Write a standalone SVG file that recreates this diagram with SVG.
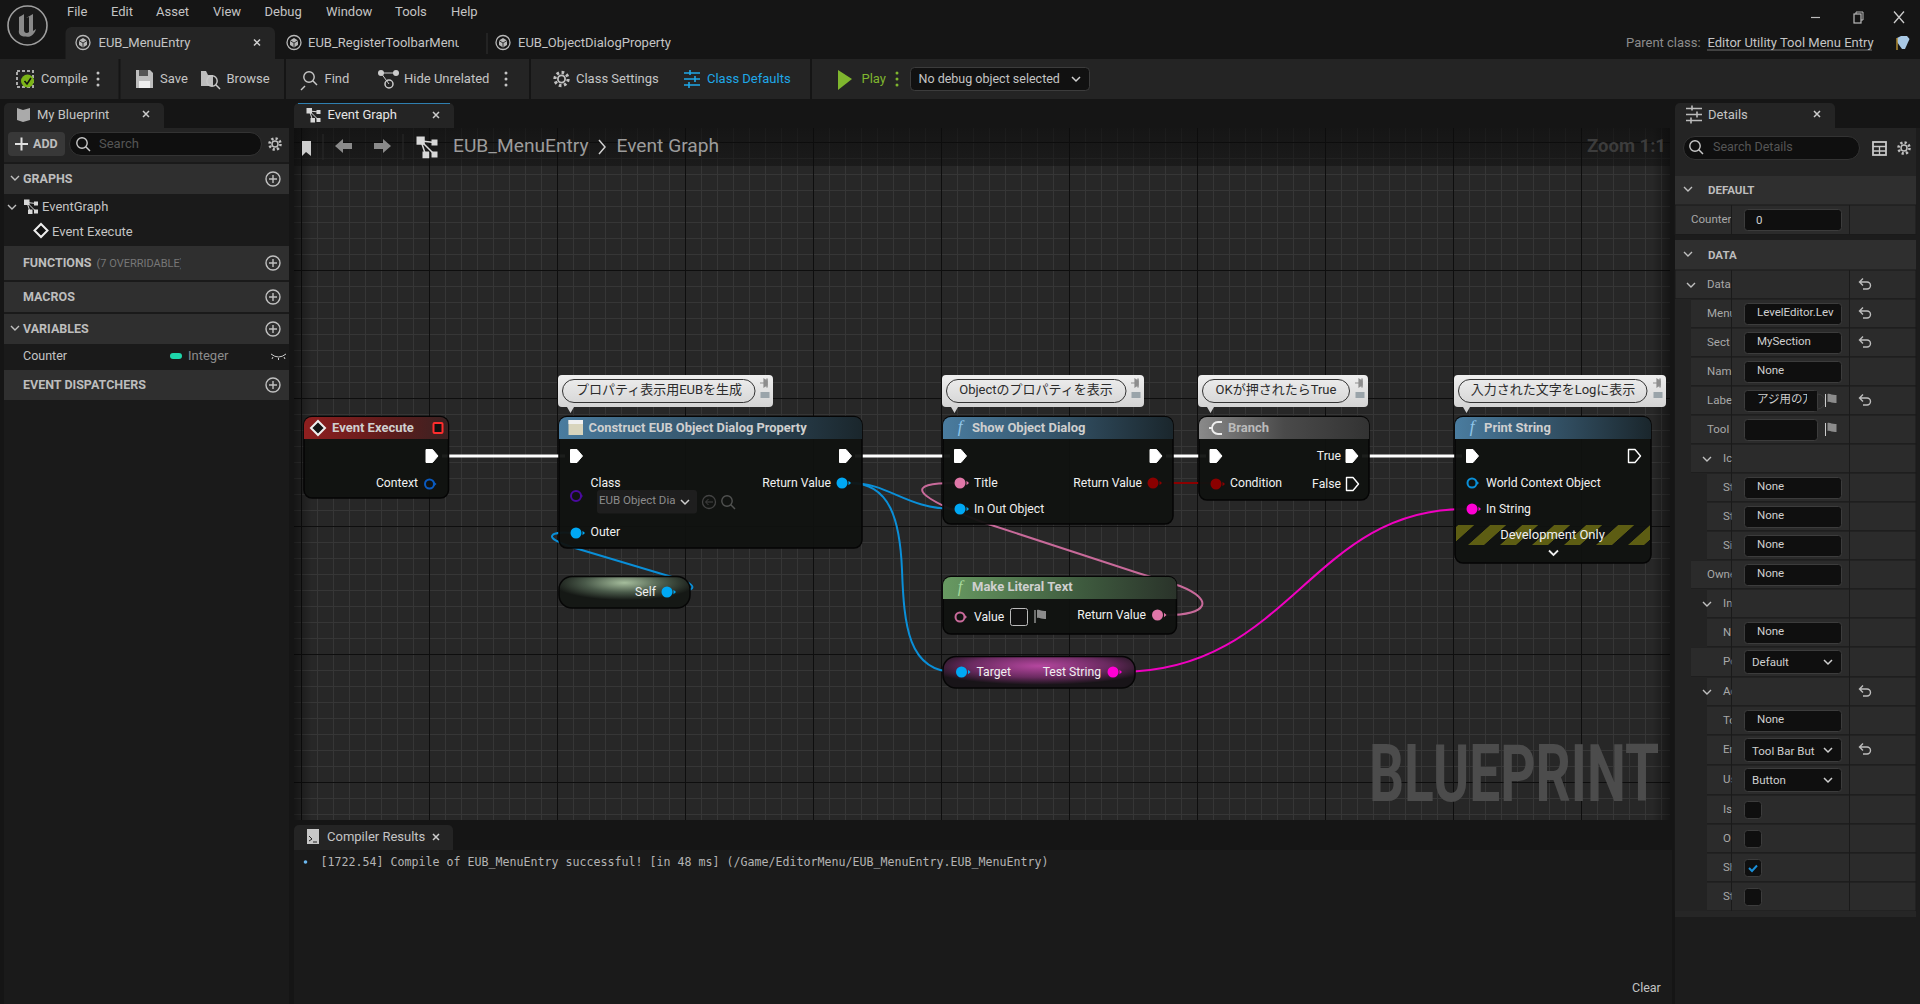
<svg xmlns="http://www.w3.org/2000/svg" width="1920" height="1004" viewBox="0 0 1920 1004">
<style>
text{font-family:Roboto,"Noto Sans CJK JP",sans-serif;font-size:13px;fill:#e8e8e8;white-space:pre;transform:translateY(-1px)}
.n{transform:none}
.ui{fill:#c4c4c4}
.dim{fill:#8c8c8c}
.hdr{font-weight:700;font-size:12.5px;fill:#bdbdbd}
.ttl{font-weight:700;fill:#cfcfcf}
.pin{fill:#f0f0f0;font-size:12.2px}
.end{text-anchor:end}
.mid{text-anchor:middle}
.cm{fill:#2c2c2c;text-anchor:middle;transform:translateY(-2px)}
.lbl{font-size:11.5px;fill:#a8a8a8}
.val{font-size:11.5px;fill:#d0d0d0;transform:none}
.body{fill:#101210;fill-opacity:.95;stroke:#050505;stroke-width:1.5}
.wire{fill:none;stroke-width:2;stroke-linecap:round}
.ico{fill:none;stroke:#c0c0c0;stroke-width:1.4}
.row{fill:#2b2b2b;stroke:#1a1a1a;stroke-width:1}
.sec{fill:#2f2f2f}
.inp{fill:#0f0f0f;stroke:#3c3c3c;stroke-width:1}
.sep{stroke:#151515;stroke-width:2}
.col{stroke:#1a1a1a;stroke-width:1}
.dots{fill:#c4c4c4}
</style>
<defs>
<pattern id="grid" width="128" height="128" patternUnits="userSpaceOnUse" patternTransform="translate(301 142)">
<rect width="128" height="128" fill="#272727"/>
<path d="M16.5 0V128M32.5 0V128M48.5 0V128M64.5 0V128M80.5 0V128M96.5 0V128M112.5 0V128M0 16.5H128M0 32.5H128M0 48.5H128M0 64.5H128M0 80.5H128M0 96.5H128M0 112.5H128" stroke="#363636" stroke-width="1"/>
<path d="M.5 0V128M0 .5H128" stroke="#0e0e0e" stroke-width="1"/>
</pattern>
<linearGradient id="hBlue"><stop offset="0" stop-color="#4a7c9f"/><stop offset=".6" stop-color="#2f4a5c"/><stop offset="1" stop-color="#1a262c"/></linearGradient>
<linearGradient id="hRed"><stop offset="0" stop-color="#8f1f1f"/><stop offset=".6" stop-color="#5e1c1c"/><stop offset="1" stop-color="#3a2222"/></linearGradient>
<linearGradient id="hGrey"><stop offset="0" stop-color="#8a8a8a"/><stop offset=".5" stop-color="#4a4a4a"/><stop offset="1" stop-color="#333"/></linearGradient>
<linearGradient id="hGreen"><stop offset="0" stop-color="#689a62"/><stop offset=".6" stop-color="#3e5a3e"/><stop offset="1" stop-color="#2a332a"/></linearGradient>
<radialGradient id="vSelf" cx=".5" cy=".2" r=".55"><stop offset="0" stop-color="#a5bd9c"/><stop offset=".55" stop-color="#4a5a4a"/><stop offset="1" stop-color="#151815"/></radialGradient>
<radialGradient id="vStr" cx=".5" cy=".3" r=".6"><stop offset="0" stop-color="#b5479f"/><stop offset=".6" stop-color="#6a2a60"/><stop offset="1" stop-color="#181418"/></radialGradient>
<linearGradient id="bub" x1="0" y1="0" x2="0" y2="1"><stop offset="0" stop-color="#efefef"/><stop offset="1" stop-color="#cfcfcf"/></linearGradient>
<linearGradient id="bar" x1="0" y1="0" x2="0" y2="1"><stop offset="0" stop-color="#0c0c0c" stop-opacity=".65"/><stop offset="1" stop-color="#0c0c0c" stop-opacity=".45"/></linearGradient>
<linearGradient id="shL"><stop offset="0" stop-color="#000" stop-opacity=".45"/><stop offset="1" stop-color="#000" stop-opacity="0"/></linearGradient>
<pattern id="stripe" width="32" height="20" patternUnits="userSpaceOnUse" patternTransform="translate(1468 545) skewX(-48)"><rect width="16" height="20" fill="#5d5d13"/></pattern>
<clipPath id="clipLbl"><rect x="1675" y="270" width="56.5" height="650"/></clipPath>
<clipPath id="clipTab"><rect x="300" y="30" width="159" height="28"/></clipPath>
<clipPath id="clipFn"><rect x="90" y="250" width="91" height="28"/></clipPath>
<g id="exec"><path d="M-5.5-6.5H1L6.5 0 1 6.5H-5.5Z" fill="#fff" stroke="#fff" stroke-linejoin="round"/></g>
<g id="execO"><path d="M-5.5-6.5H1L6.5 0 1 6.5H-5.5Z" fill="none" stroke="#fff" stroke-width="1.4" stroke-linejoin="round"/></g>
<g id="tri"><path d="M6.5-2.2L9 0 6.5 2.2Z"/></g>
<g id="plus"><circle r="7" class="ico" fill="none"/><path d="M-4 0H4M0-4V4" class="ico"/></g>
<g id="gear"><circle r="3" fill="none" stroke="#c0c0c0" stroke-width="1.5"/><circle r="5.5" fill="none" stroke="#c0c0c0" stroke-width="2.6" stroke-dasharray="2.2 2.1"/></g>
<g id="bp"><circle r="7" fill="none" stroke="#b8b8b8" stroke-width="1.3"/><path d="M0-4.5L4 -2V2.5L0 5-4 2.5V-2Z" fill="#b8b8b8"/><path d="M0 .5V5M0 .5L4-2M0 .5L-4-2" stroke="#333" fill="none"/></g>
<g id="gr"><rect x="-7" y="-7" width="5.5" height="5.5" fill="#d8d8d8"/><rect x="3" y="-5" width="4" height="4" fill="#d8d8d8"/><rect x="-3" y="3" width="4.5" height="4.5" fill="#d8d8d8"/><rect x="3" y="3" width="4" height="4" fill="#d8d8d8"/><path d="M-4-4L-1 5M-4-4L5-3M-4-4L5 5" stroke="#d8d8d8" fill="none"/></g>
<g id="mag"><circle cx="-1" cy="-1" r="5.2" fill="none" stroke="#c8c8c8" stroke-width="1.4"/><path d="M2.8 2.8L7 7" stroke="#c8c8c8" stroke-width="1.5"/></g>
<g id="sliders"><path d="M-8-6H8M-8 0H8M-8 6H8" stroke="currentColor" stroke-width="1.4" fill="none"/><path d="M-2-9V-4M3-3V3M-3 3V9" stroke="currentColor" stroke-width="1.6"/></g>
<g id="undo"><path d="M-5-2H2a3.5 3.5 0 0 1 0 7H-2M-2-5.5L-5.5-2-2 1.5" fill="none" stroke="#bdbdbd" stroke-width="1.4"/></g>
<g id="flag"><path d="M-5.5-6V7" stroke="#ccc" stroke-width="1"/><path d="M-3.5-6C-1-7 1-4.5 5.5-5V3C1 3.500-1 1-3.500 2Z" fill="#8c8c8c"/></g>
<g id="dd"><path d="M-4-2L0 2 4-2" fill="none" stroke="#d0d0d0" stroke-width="1.5"/></g>
<g id="dots3"><circle cy="-6" r="1.5"/><circle r="1.5"/><circle cy="6" r="1.5"/></g>
<g id="pinIc"><path d="M-5 1H-1M-1-3V5L2 3V-1Z" stroke="#8e8e8e" stroke-width="1.2" fill="#8e8e8e"/><path d="M2-3.500V5.500" stroke="#8e8e8e" stroke-width="1.500"/><rect x="-4.500" y="10" width="9" height="6" fill="#9aa4aa"/></g>
</defs>

<rect width="1920" height="1004" fill="#151515"/>

<g id="title-bar">
<circle cx="27.500" cy="25.500" r="19.500" fill="#1a1a1a" stroke="#a0a0a0" stroke-width="1.6"/>
<path d="M19 17C21 16 23 15 24 14V30C24 33 27 34 29 32V17L26 18 33 14V31L36 29C35 34 30 38 26 36.500 21 37 18 34 19 30Z" fill="#8a8a8a"/>
<text x="67" y="16.500" class="ui">File</text><text x="111" y="16.500" class="ui">Edit</text><text x="156" y="16.500" class="ui">Asset</text><text x="213" y="16.500" class="ui">View</text><text x="264.500" y="16.500" class="ui">Debug</text><text x="326" y="16.500" class="ui">Window</text><text x="395" y="16.500" class="ui">Tools</text><text x="451" y="16.500" class="ui">Help</text>
<path d="M65.500 59V33a6 6 0 0 1 6-6H269a6 6 0 0 1 6 6V59Z" fill="#242424"/>
<use href="#bp" x="83" y="42.500"/><text x="98.500" y="47.500" class="ui">EUB_MenuEntry</text>
<path d="M254 39.500L260 45.500M260 39.500L254 45.500" stroke="#d0d0d0" stroke-width="1.500"/>
<use href="#bp" x="294" y="42.500"/><text x="308" y="47.500" class="ui" clip-path="url(#clipTab)">EUB_RegisterToolbarMenu</text>
<path d="M487 33V54" stroke="#333"/>
<use href="#bp" x="503" y="42.500"/><text x="518" y="47.500" class="ui">EUB_ObjectDialogProperty</text>
<path d="M1811 17.500H1820" stroke="#bbb" stroke-width="1.200"/>
<rect x="1854" y="14" width="7" height="9" fill="none" stroke="#bbb" stroke-width="1.200"/><path d="M1856 14V12H1863V20H1861" fill="none" stroke="#bbb"/>
<path d="M1894 11.500L1904 23M1904 11.500L1894 23" stroke="#ccc" stroke-width="1.300"/>
<text x="1626" y="47.500" class="dim" font-size="12.500">Parent class:</text>
<text x="1707.500" y="47.500" class="ui">Editor Utility Tool Menu Entry</text>
<path d="M1707.500 50H1872" stroke="#ccc" stroke-dasharray="1 1"/>
<path d="M1897 38L1901 36H1907L1909.500 39 1905 49 1902 49 1897 42Z" fill="#a9c9e6"/><path d="M1897 38V50" stroke="#b08a30" stroke-width="1.500"/>
</g>

<g id="toolbar">
<rect x="0" y="59" width="1920" height="40" fill="#242424"/>
<path d="M119.500 59V99M285 59V99M530 59V99M811 59V99" class="sep"/>
<rect x="17" y="71" width="16" height="16" fill="none" stroke="#aaa" stroke-width="2" stroke-dasharray="3 2"/><circle cx="27.500" cy="81" r="6.500" fill="#7cb518"/><path d="M24.500 81L27 84 31 78" stroke="#111" stroke-width="1.600" fill="none"/>
<text x="41" y="83.500" class="ui" style="font-size:12.700px">Compile</text><use href="#dots3" x="98" y="79" class="dots"/>
<path d="M136 70H150L153 73V88H136Z" fill="#bdbdbd"/><rect x="139" y="70" width="9" height="6" fill="#555"/><rect x="139" y="81" width="11" height="7" fill="#eee"/>
<text x="160" y="83.500" class="ui">Save</text>
<path d="M201 71V86H213V75H208L206 71Z" fill="#bdbdbd"/><use href="#mag" x="213" y="82"/>
<text x="226.500" y="83.500" class="ui">Browse</text>
<use href="#mag" x="310" y="78"/><path d="M305 86L301 90" stroke="#c8c8c8" stroke-width="1.500"/>
<text x="324.500" y="83.500" class="ui">Find</text>
<circle cx="381" cy="73" r="3" fill="#ccc"/><circle cx="396" cy="73" r="3" fill="#ccc"/><circle cx="389" cy="84" r="4" fill="none" stroke="#ccc" stroke-width="1.500"/><path d="M381 73H396M381 73L389 84" stroke="#ccc"/>
<text x="404" y="83.500" class="ui">Hide Unrelated</text><use href="#dots3" x="506" y="79" class="dots"/>
<use href="#gear" x="561.500" y="79" transform="translate(-112.300 -15.800) scale(1.200)"/>
<text x="576" y="83.500" class="ui">Class Settings</text>
<use href="#sliders" x="692" y="79" style="color:#1fa8e8"/>
<text x="707" y="83.500" style="fill:#1fa8e8">Class Defaults</text>
<path d="M838 70L852 79 838 90Z" fill="#7fb62e"/>
<text x="861.500" y="83.500" style="fill:#7fb62e">Play</text><use href="#dots3" x="897" y="79" fill="#7fb62e"/>
<rect x="910.500" y="67.500" width="179" height="23" rx="4" fill="#111" stroke="#3c3c3c"/>
<text x="918.500" y="83.500" style="font-size:12.500px" class="ui">No debug object selected</text>
<use href="#dd" x="1076" y="79"/>
</g>

<g id="my-blueprint-panel">
<rect x="4" y="128" width="285" height="876" fill="#1a1a1a"/>
<path d="M4 128V108a5 5 0 0 1 5-5H159a5 5 0 0 1 5 5V128Z" fill="#242424"/>
<path d="M17 108L23 110 30 108V120L23 122 17 120Z" fill="#aaa"/>
<text x="37" y="119" class="ui n">My Blueprint</text>
<path d="M143 111L149 117M149 111L143 117" stroke="#ccc" stroke-width="1.500"/>
<rect x="4" y="128" width="285" height="34" fill="#242424"/>
<rect x="8" y="132" width="57" height="24" rx="4" fill="#383838"/>
<path d="M15 144H28M21.500 137.500V150.500" stroke="#e0e0e0" stroke-width="2"/>
<text x="33" y="148.500" class="hdr" style="font-size:12.500px">ADD</text>
<rect x="69.500" y="132.500" width="192" height="23" rx="11.500" fill="#0f0f0f" stroke="#333"/>
<use href="#mag" x="83" y="144"/><text x="99" y="148.500" style="fill:#555">Search</text>
<use href="#gear" x="275" y="144"/>
<rect x="4" y="164" width="285" height="30" class="sec"/>
<rect x="4" y="246" width="285" height="34" class="sec"/>
<rect x="4" y="282" width="285" height="30" class="sec"/>
<rect x="4" y="314" width="285" height="30" class="sec"/>
<rect x="4" y="370" width="285" height="30" class="sec"/>
<path d="M11 176L15 180 19 176" class="ico"/><path d="M8 205L12 209 16 205" class="ico"/><path d="M11 326L15 330 19 326" class="ico"/>
<text x="23" y="183.500" class="hdr">GRAPHS</text>
<use href="#gr" x="31" y="206.500"/>
<text x="42" y="211" class="ui n">EventGraph</text>
<path d="M41 224L47.500 230.500 41 237 34.500 230.500Z" fill="#111" stroke="#eee" stroke-width="2"/>
<text x="52" y="236" class="ui n">Event Execute</text>
<text x="23" y="267.500" class="hdr">FUNCTIONS</text>
<text x="96.500" y="267.500" clip-path="url(#clipFn)" style="font-size:11px;fill:#777">(7 OVERRIDABLE)</text>
<text x="23" y="301.500" class="hdr">MACROS</text>
<text x="23" y="333.500" class="hdr">VARIABLES</text>
<text x="23" y="360.500" class="ui" style="font-size:12.500px">Counter</text>
<rect x="170" y="353" width="12" height="6" rx="3" fill="#1ed6ab"/>
<text x="188" y="360.500" class="dim">Integer</text>
<path d="M271 354Q278.500 360 286 354M273 357L272 359M278.500 358V360M284 357L285 359" fill="none" stroke="#ccc"/>
<text x="23" y="389.500" class="hdr">EVENT DISPATCHERS</text>
<use href="#plus" x="273" y="179"/><use href="#plus" x="273" y="263"/><use href="#plus" x="273" y="297"/><use href="#plus" x="273" y="329"/><use href="#plus" x="273" y="385"/>
</g>

<g id="graph-area">
<path d="M294 128V108a5 5 0 0 1 5-5H449a5 5 0 0 1 5 5V128Z" fill="#242424"/>
<path d="M298 103.500H450" stroke="#2f7fb0"/>
<use href="#gr" x="313.500" y="115"/><text x="327.500" y="119" class="n" style="fill:#e6e6e6">Event Graph</text>
<path d="M433 112L439 118M439 112L433 118" stroke="#ccc" stroke-width="1.500"/>
<rect x="294" y="128" width="1376" height="692" fill="url(#grid)"/>
<rect x="294" y="128" width="18" height="692" fill="url(#shL)"/>
<rect x="1652" y="128" width="18" height="692" fill="url(#shL)" transform="rotate(180 1661 474)"/>
<rect x="294" y="128" width="1376" height="38" fill="url(#bar)"/>
<path d="M302 141H311V156L306 152 302 156Z" fill="#ccc"/>
<path d="M323 134V160M403 134V160" stroke="#2a2a2a"/>
<path d="M335 146L343 139V143H352V149H343V153Z" fill="#8a8a8a"/><path d="M391 146L383 139V143H374V149H383V153Z" fill="#8a8a8a"/>
<use href="#gr" x="427" y="147" transform="translate(-213.500 -73.500) scale(1.500)"/>
<text x="453" y="153" style="font-size:19.200px;fill:#9c9c9c">EUB_MenuEntry</text>
<path d="M599 140L605 147 599 154" fill="none" stroke="#d0d0d0" stroke-width="1.500"/>
<text x="616.500" y="153" style="font-size:19.200px;fill:#9c9c9c">Event Graph</text>
<text x="1666" y="153" class="end" style="font-size:18.500px;font-weight:700;fill:#3c3c3c">Zoom 1:1</text>
<text x="1369" y="801" class="n" textLength="290" lengthAdjust="spacingAndGlyphs" style="font-size:80px;font-weight:700;fill:#4c4c4c">BLUEPRINT</text>
</g>

<g id="connectors">
<path id="w-exec-1" d="M442 456H565" stroke="#fff" stroke-width="3" fill="none"/>
<path id="w-exec-2" d="M855 456H950" stroke="#fff" stroke-width="3" fill="none"/>
<path id="w-exec-3" d="M1166 456H1206" stroke="#fff" stroke-width="3" fill="none"/>
<path id="w-exec-4" d="M1362 456H1462" stroke="#fff" stroke-width="3" fill="none"/>
<path id="w-self-outer" class="wire" stroke="#0a8fd8" d="M670 592C698 592 701 585 672 577L575 548C538 537 552 531 572 533"/>
<path id="w-ret-inout" class="wire" stroke="#0a8fd8" d="M850 483C890 483 905 509 955 509"/>
<path id="w-ret-target" class="wire" stroke="#0a8fd8" d="M850 483C890 483 900 520 902 570C904 625 908 672 955 672"/>
<path id="w-text-title" class="wire" stroke="#c86a9a" d="M1166 615C1208 615 1215 600 1180 586L1138 573 985 523C910 495 905 483 955 483"/>
<path id="w-cond" class="wire" stroke="#8b0000" d="M1160 483H1210"/>
<path id="w-string" class="wire" stroke="#f000c0" d="M1120 672C1290 672 1310 509 1465 509"/>
</g>

<g id="node-event-execute">
<rect x="304" y="416.500" width="144.500" height="81.500" rx="8" class="body"/>
<path d="M304 439V425a8 8 0 0 1 8-8H440a8 8 0 0 1 8 8V439Z" fill="url(#hRed)"/>
<path d="M318 421L325 428 318 435 311 428Z" fill="#141414" stroke="#eee" stroke-width="2"/>
<text x="332" y="432.500" class="ttl">Event Execute</text>
<rect x="433.500" y="423" width="9" height="10" rx="1" fill="#111" stroke="#ff2d2d" stroke-width="2"/>
<use href="#exec" x="431.500" y="456"/>
<text x="418" y="487.500" class="pin end">Context</text>
<circle cx="429.500" cy="484" r="4.500" fill="none" stroke="#0a5ac0" stroke-width="2"/><use href="#tri" x="427.500" y="484" fill="#0a5ac0"/>
</g>

<g id="node-construct">
<path d="M562 375H769a4 4 0 0 1 4 4V403a4 4 0 0 1-4 4H574L570.500 413 567 407H562a4 4 0 0 1-4-4V379a4 4 0 0 1 4-4Z" fill="url(#bub)"/>
<rect x="562.500" y="379.500" width="192.500" height="23" rx="11.500" fill="none" stroke="#333"/>
<text x="659" y="395.500" class="cm">プロパティ表示用EUBを生成</text>
<use href="#pinIc" x="765" y="382"/>
<rect x="559" y="416.500" width="303" height="131.500" rx="8" class="body"/>
<path d="M559 439V425a8 8 0 0 1 8-8H854a8 8 0 0 1 8 8V439Z" fill="url(#hBlue)"/>
<rect x="568.500" y="420" width="14.500" height="15" fill="#d8d4bc"/><rect x="568.500" y="420" width="14.500" height="4" fill="#f0f0f0"/>
<text x="588.500" y="432.500" class="ttl" style="font-size:12.900px">Construct EUB Object Dialog Property</text>
<use href="#exec" x="576" y="456"/><use href="#exec" x="845" y="456"/>
<text x="590.500" y="487.500" class="pin">Class</text>
<circle cx="576" cy="496" r="5" fill="none" stroke="#4a0a9e" stroke-width="2"/><use href="#tri" x="574" y="496" fill="#4a0a9e"/>
<rect x="597" y="490" width="100" height="23.500" rx="3" fill="#1e1e1e"/>
<text x="599" y="505" style="font-size:11.500px;fill:#8c8c8c">EUB Object Dia</text>
<use href="#dd" x="685" y="502"/>
<circle cx="709" cy="502" r="6.500" fill="none" stroke="#444" stroke-width="1.300"/><path d="M713 502H706M708.500 499L705.500 502 708.500 505" fill="none" stroke="#444"/>
<g opacity=".35"><use href="#mag" x="728" y="502"/></g>
<text x="831" y="487.500" class="pin end">Return Value</text>
<circle cx="842" cy="483" r="5.500" fill="#00a8f4"/><use href="#tri" x="842" y="483" fill="#00a8f4"/>
<circle cx="576" cy="533" r="5.500" fill="#00a8f4"/><use href="#tri" x="576" y="533" fill="#00a8f4"/>
<text x="590.500" y="537" class="pin">Outer</text>
</g>

<g id="node-self">
<rect x="559" y="576.500" width="131" height="31.500" rx="13" fill="url(#vSelf)" stroke="#060606" stroke-width="1.500"/>
<text x="656" y="596.500" class="pin end">Self</text>
<circle cx="667" cy="592" r="5.500" fill="#00a8f4"/><use href="#tri" x="667" y="592" fill="#00a8f4"/>
</g>

<g id="node-show-object-dialog">
<path d="M946 375H1140a4 4 0 0 1 4 4V403a4 4 0 0 1-4 4H958L954.500 413 951 407H946a4 4 0 0 1-4-4V379a4 4 0 0 1 4-4Z" fill="url(#bub)"/>
<rect x="946.500" y="379.500" width="179.500" height="23" rx="11.500" fill="none" stroke="#333"/>
<text x="1036" y="395.500" class="cm">Objectのプロパティを表示</text>
<use href="#pinIc" x="1136" y="382"/>
<rect x="943" y="416.500" width="230" height="107.500" rx="8" class="body"/>
<path d="M943 439V425a8 8 0 0 1 8-8H1165a8 8 0 0 1 8 8V439Z" fill="url(#hBlue)"/>
<text x="960" y="433" class="mid" style="font-family:'Liberation Serif',serif;font-style:italic;font-size:17px;fill:#8fc6ea">f</text>
<text x="972" y="432.500" class="ttl">Show Object Dialog</text>
<use href="#exec" x="960" y="456"/><use href="#exec" x="1155.500" y="456"/>
<circle cx="960" cy="483" r="5.500" fill="#e077a8"/><use href="#tri" x="960" y="483" fill="#e077a8"/>
<text x="974" y="487.500" class="pin">Title</text>
<text x="1142" y="487.500" class="pin end">Return Value</text>
<circle cx="1153" cy="483" r="5.500" fill="#8b0000"/><use href="#tri" x="1153" y="483" fill="#8b0000"/>
<circle cx="960" cy="509" r="5.500" fill="#00a8f4"/><use href="#tri" x="960" y="509" fill="#00a8f4"/>
<text x="974" y="513.500" class="pin">In Out Object</text>
</g>

<g id="node-branch">
<path d="M1202 375H1364a4 4 0 0 1 4 4V403a4 4 0 0 1-4 4H1214L1210.500 413 1207 407H1202a4 4 0 0 1-4-4V379a4 4 0 0 1 4-4Z" fill="url(#bub)"/>
<rect x="1202.500" y="379.500" width="147" height="23" rx="11.500" fill="none" stroke="#333"/>
<text x="1276" y="395.500" class="cm">OKが押されたらTrue</text>
<use href="#pinIc" x="1360" y="382"/>
<rect x="1199" y="416.500" width="170" height="83.500" rx="8" class="body"/>
<path d="M1199 439V425a8 8 0 0 1 8-8H1361a8 8 0 0 1 8 8V439Z" fill="url(#hGrey)"/>
<path d="M1222 422H1218A6 6 0 0 0 1212 428 6 6 0 0 0 1218 434H1222M1209 428H1212" fill="none" stroke="#eee" stroke-width="1.800"/>
<text x="1228" y="432.500" class="ttl" style="fill:#bbb">Branch</text>
<use href="#exec" x="1215.500" y="456"/>
<text x="1341" y="460.500" class="pin end">True</text><use href="#exec" x="1351.500" y="456"/>
<circle cx="1216" cy="484" r="5.500" fill="#8b0000"/><use href="#tri" x="1216" y="484" fill="#8b0000"/>
<text x="1230" y="487.500" class="pin">Condition</text>
<text x="1341" y="488.500" class="pin end">False</text><use href="#execO" x="1352" y="484"/>
</g>

<g id="node-make-literal-text">
<rect x="943" y="576.500" width="233.500" height="57.500" rx="8" class="body"/>
<path d="M943 599V585a8 8 0 0 1 8-8H1168.500a8 8 0 0 1 8 8V599Z" fill="url(#hGreen)"/>
<text x="960" y="593" class="mid" style="font-family:'Liberation Serif',serif;font-style:italic;font-size:17px;fill:#a5d89a">f</text>
<text x="972" y="592" class="ttl">Make Literal Text</text>
<circle cx="960" cy="617" r="4.500" fill="none" stroke="#c86a9a" stroke-width="2"/><use href="#tri" x="958" y="617" fill="#c86a9a"/>
<text x="974" y="621" class="pin n">Value</text>
<rect x="1010.500" y="608.500" width="17" height="17" rx="2" fill="#111" stroke="#bbb"/>
<use href="#flag" x="1040.500" y="616"/>
<text x="1146" y="619.500" class="pin end">Return Value</text>
<circle cx="1157.500" cy="615" r="5.500" fill="#e077a8"/><use href="#tri" x="1157.500" y="615" fill="#e077a8"/>
</g>

<g id="node-test-string">
<rect x="943" y="656.500" width="192" height="31.500" rx="13" fill="url(#vStr)" stroke="#060606" stroke-width="1.500"/>
<circle cx="961.500" cy="672" r="5.500" fill="#00a8f4"/><use href="#tri" x="961.500" y="672" fill="#00a8f4"/>
<text x="976.500" y="676.500" class="pin">Target</text>
<text x="1101" y="676.500" class="pin end">Test String</text>
<circle cx="1113" cy="672" r="5.500" fill="#ff00d4"/><use href="#tri" x="1113" y="672" fill="#ff00d4"/>
</g>

<g id="node-print-string">
<path d="M1458 375H1662a4 4 0 0 1 4 4V403a4 4 0 0 1-4 4H1470L1466.500 413 1463 407H1458a4 4 0 0 1-4-4V379a4 4 0 0 1 4-4Z" fill="url(#bub)"/>
<rect x="1458.500" y="379.500" width="188.500" height="23" rx="11.500" fill="none" stroke="#333"/>
<text x="1553" y="395.500" class="cm">入力された文字をLogに表示</text>
<use href="#pinIc" x="1658" y="382"/>
<rect x="1455" y="416.500" width="196" height="146.500" rx="8" class="body"/>
<path d="M1455 439V425a8 8 0 0 1 8-8H1643a8 8 0 0 1 8 8V439Z" fill="url(#hBlue)"/>
<text x="1472" y="433" class="mid" style="font-family:'Liberation Serif',serif;font-style:italic;font-size:17px;fill:#8fc6ea">f</text>
<text x="1484" y="432.500" class="ttl">Print String</text>
<use href="#exec" x="1472" y="456"/><use href="#execO" x="1634" y="456"/>
<circle cx="1472" cy="483" r="4.500" fill="none" stroke="#0a8fd8" stroke-width="2"/><use href="#tri" x="1470" y="483" fill="#0a8fd8"/>
<text x="1486" y="487.500" class="pin">World Context Object</text>
<circle cx="1472" cy="509" r="5.500" fill="#ff00d4"/><use href="#tri" x="1472" y="509" fill="#ff00d4"/>
<text x="1486" y="513.500" class="pin">In String</text>
<rect x="1456" y="525" width="194" height="20" fill="url(#stripe)"/>
<text x="1552.500" y="539.500" class="mid" style="fill:#f0f0f0">Development Only</text>
<path d="M1549 550.500L1553.500 555 1558 550.500" fill="none" stroke="#eee" stroke-width="1.800"/>
</g>

<g id="compiler-results">
<path d="M294 850V830a5 5 0 0 1 5-5H448a5 5 0 0 1 5 5V850Z" fill="#242424"/>
<rect x="294" y="850" width="1378" height="154" fill="#1a1a1a"/>
<path d="M307 829H319V844H307Z" fill="#c8c8c8"/><path d="M309 836L312 839 309 841M313 842H317" stroke="#222" fill="none"/>
<text x="327" y="841" class="ui n">Compiler Results</text>
<path d="M433 834L439 840M439 834L433 840" stroke="#ccc" stroke-width="1.500"/>
<circle cx="305.500" cy="862" r="1.800" fill="#6cb8f0"/>
<text x="320.500" y="866" class="n" textLength="728" lengthAdjust="spacingAndGlyphs" style="font-family:'DejaVu Sans Mono',monospace;font-size:11.500px;fill:#b4b4b4">[1722.54] Compile of EUB_MenuEntry successful! [in 48 ms] (/Game/EditorMenu/EUB_MenuEntry.EUB_MenuEntry)</text>
<text x="1632" y="992" class="ui n" style="font-size:12.500px">Clear</text>
</g>

<g id="details-panel">
<rect x="1675" y="128" width="245" height="876" fill="#1c1c1c"/>
<rect x="1675" y="128" width="241" height="48" fill="#242424"/>
<path d="M1675 128V108a5 5 0 0 1 5-5H1830a5 5 0 0 1 5 5V128Z" fill="#242424"/>
<use href="#sliders" x="1694" y="114.500" style="color:#bbb"/>
<text x="1708" y="119" class="ui n">Details</text>
<path d="M1814 111L1820 117M1820 111L1814 117" stroke="#ccc" stroke-width="1.500"/>
<rect x="1683.500" y="136.500" width="176" height="23" rx="11.500" fill="#0f0f0f" stroke="#333"/>
<use href="#mag" x="1696" y="147"/><text x="1713" y="151" class="n" style="font-size:12.500px;fill:#555">Search Details</text>
<rect x="1873" y="142" width="13" height="13" fill="none" stroke="#c8c8c8" stroke-width="1.800"/><path d="M1873 146.500H1886M1873 151H1886M1879.500 146.500V155" stroke="#c8c8c8" stroke-width="1.300"/>
<use href="#gear" x="1904" y="148"/>

<rect x="1675" y="176" width="241" height="29" class="sec"/>
<path d="M1684 187L1688 191 1692 187" class="ico" stroke-width="1.800"/>
<text x="1708" y="194.500" class="hdr" style="font-size:11.500px">DEFAULT</text>
<rect x="1675" y="205" width="241" height="29.500" class="row"/>
<text x="1691" y="223.500" class="lbl">Counter</text>
<rect x="1744.500" y="209.500" width="97" height="21" rx="3" class="inp"/>
<text x="1756" y="223.500" class="val">0</text>

<rect x="1675" y="240" width="241" height="30" class="sec"/>
<path d="M1684 252L1688 256 1692 252" class="ico" stroke-width="1.800"/>
<text x="1708" y="259.500" class="hdr" style="font-size:11.500px">DATA</text>

<g id="rows">
<rect x="1675" y="270" width="241" height="29" class="row"/><rect x="1675" y="299" width="241" height="29" class="row"/><rect x="1675" y="328" width="241" height="29" class="row"/><rect x="1675" y="357" width="241" height="29" class="row"/><rect x="1675" y="386" width="241" height="29" class="row"/><rect x="1675" y="415" width="241" height="29" class="row"/><rect x="1675" y="444" width="241" height="29" class="row"/><rect x="1675" y="473" width="241" height="29" class="row"/><rect x="1675" y="502" width="241" height="29" class="row"/><rect x="1675" y="531" width="241" height="29" class="row"/><rect x="1675" y="560" width="241" height="29" class="row"/><rect x="1675" y="589" width="241" height="29" class="row"/><rect x="1675" y="618" width="241" height="29" class="row"/><rect x="1675" y="647" width="241" height="30" class="row"/><rect x="1675" y="677" width="241" height="29" class="row"/><rect x="1675" y="706" width="241" height="29" class="row"/><rect x="1675" y="735" width="241" height="30" class="row"/><rect x="1675" y="765" width="241" height="30" class="row"/><rect x="1675" y="795" width="241" height="29" class="row"/><rect x="1675" y="824" width="241" height="29" class="row"/><rect x="1675" y="853" width="241" height="29" class="row"/><rect x="1675" y="882" width="241" height="29" class="row"/>
<rect x="1675" y="911" width="241" height="6" fill="#262626"/>
<rect x="1675" y="299" width="16" height="612" fill="#232323"/>
<rect x="1691" y="473" width="16" height="87" fill="#232323"/><rect x="1691" y="589" width="16" height="58" fill="#232323"/><rect x="1691" y="677" width="16" height="234" fill="#232323"/>
<path d="M1731.500 205V234M1731.500 270V911M1849.500 205V234M1849.500 270V911" class="col"/>
</g>

<path d="M1687 283L1691 287 1695 283" class="ico" stroke-width="1.800"/>
<path d="M1703 457L1707 461 1711 457" class="ico" stroke-width="1.800"/>
<path d="M1703 602L1707 606 1711 602" class="ico" stroke-width="1.800"/>
<path d="M1703 690L1707 694 1711 690" class="ico" stroke-width="1.800"/>

<g clip-path="url(#clipLbl)">
<text x="1707" y="288.500" class="lbl">Data</text>
<text x="1707" y="317.500" class="lbl">Menu</text>
<text x="1707" y="346.500" class="lbl">Sect</text>
<text x="1707" y="375.500" class="lbl">Nam</text>
<text x="1707" y="404.500" class="lbl">Labe</text>
<text x="1707" y="433.500" class="lbl">Tool</text>
<text x="1723" y="462.500" class="lbl">Ic</text>
<text x="1723" y="491.500" class="lbl">St</text>
<text x="1723" y="520.500" class="lbl">St</text>
<text x="1723" y="549.500" class="lbl">Si</text>
<text x="1707" y="578.500" class="lbl">Owne</text>
<text x="1723" y="607.500" class="lbl">In</text>
<text x="1723" y="636.500" class="lbl">N</text>
<text x="1723" y="665.500" class="lbl">Po</text>
<text x="1723" y="695.500" class="lbl">Ac</text>
<text x="1723" y="724.500" class="lbl">To</text>
<text x="1723" y="753.500" class="lbl">En</text>
<text x="1723" y="783.500" class="lbl">Us</text>
<text x="1723" y="813.500" class="lbl">Is</text>
<text x="1723" y="842.500" class="lbl">O</text>
<text x="1723" y="871.500" class="lbl">Sh</text>
<text x="1723" y="900.500" class="lbl">St</text>
</g>

<rect x="1744.500" y="303.500" width="97" height="21" rx="3" class="inp"/><text x="1757" y="316" class="val">LevelEditor.Lev</text>
<rect x="1744.500" y="332.500" width="97" height="21" rx="3" class="inp"/><text x="1757" y="345" class="val">MySection</text>
<rect x="1744.500" y="361.500" width="97" height="21" rx="3" class="inp"/><text x="1757" y="374" class="val">None</text>
<rect x="1744.500" y="390.500" width="73" height="21" rx="3" class="inp"/><text x="1757" y="403" class="val">アジ用の万</text><rect x="1807" y="391" width="10" height="20" fill="#0f0f0f"/><path d="M1817.500 394a3 3 0 0 1 0 15" fill="none" stroke="#3c3c3c"/>
<rect x="1744.500" y="419.500" width="73" height="21" rx="3" class="inp"/>
<use href="#flag" x="1831" y="400"/><use href="#flag" x="1831" y="429"/>
<rect x="1744.500" y="477.500" width="97" height="21" rx="3" class="inp"/><text x="1757" y="490" class="val">None</text>
<rect x="1744.500" y="506.500" width="97" height="21" rx="3" class="inp"/><text x="1757" y="519" class="val">None</text>
<rect x="1744.500" y="535.500" width="97" height="21" rx="3" class="inp"/><text x="1757" y="548" class="val">None</text>
<rect x="1744.500" y="564.500" width="97" height="21" rx="3" class="inp"/><text x="1757" y="577" class="val">None</text>
<rect x="1744.500" y="622.500" width="97" height="21" rx="3" class="inp"/><text x="1757" y="635" class="val">None</text>
<rect x="1744.500" y="650.500" width="97" height="23" rx="3" class="inp"/><text x="1752" y="666" class="val">Default</text><use href="#dd" x="1828" y="662"/>
<rect x="1744.500" y="710.500" width="97" height="21" rx="3" class="inp"/><text x="1757" y="723" class="val">None</text>
<rect x="1744.500" y="738.500" width="97" height="23" rx="3" class="inp"/><text x="1752" y="754.500" class="val">Tool Bar But</text><use href="#dd" x="1828" y="750"/>
<rect x="1744.500" y="768.500" width="97" height="23" rx="3" class="inp"/><text x="1752" y="784" class="val">Button</text><use href="#dd" x="1828" y="780"/>
<rect x="1744.500" y="801.500" width="17" height="17" rx="3" class="inp"/>
<rect x="1744.500" y="830.500" width="17" height="17" rx="3" class="inp"/>
<rect x="1744.500" y="859.500" width="17" height="17" rx="3" class="inp"/><path d="M1749 868L1752 871 1757 865.500" fill="none" stroke="#1a8fd8" stroke-width="2"/>
<rect x="1744.500" y="888.500" width="17" height="17" rx="3" class="inp"/>
<use href="#undo" x="1865" y="284"/><use href="#undo" x="1865" y="313"/><use href="#undo" x="1865" y="342"/><use href="#undo" x="1865" y="400"/><use href="#undo" x="1865" y="691"/><use href="#undo" x="1865" y="749"/>
</g>
</svg>
